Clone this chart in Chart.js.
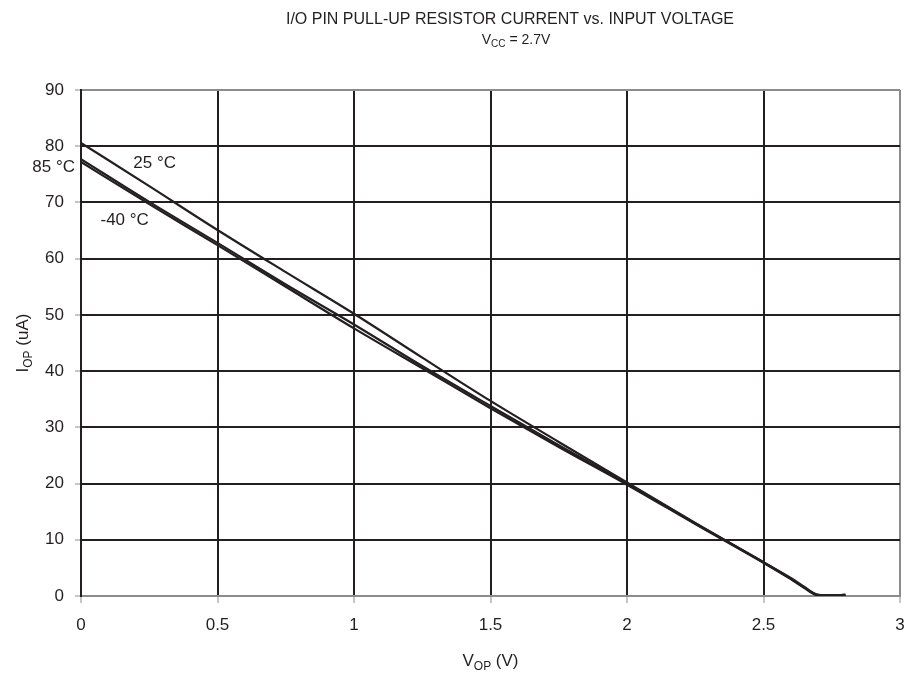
<!DOCTYPE html>
<html>
<head>
<meta charset="utf-8">
<script src="https://cdn.jsdelivr.net/npm/chart.js@4"></script>
<style>
html,body{margin:0;padding:0;background:#fff;}
#wrap{width:906px;height:674px;position:relative;}
</style>
</head>
<body>
<div id="wrap"><canvas id="c" width="906" height="674"></canvas></div>
<script>
const voltages = [0, 0.25, 0.5, 0.75, 1, 1.25, 1.5, 1.75, 2, 2.25, 2.5, 2.6, 2.65, 2.7, 2.75, 2.8];
const current25 = [80.6, 72.9, 65.1, 57.6, 50.2, 42.4, 34.7, 27.4, 20.2, 13.0, 6.0, 3.2, 1.6, 0.2, 0.1, 0.2];
const current85 = [77.7, 70.1, 62.8, 55.4, 48.3, 40.9, 33.8, 26.8, 20.0, 12.9, 6.0, 3.1, 1.5, 0.2, 0.1, 0.2];
const currentM40 = [77.2, 69.7, 62.4, 55.0, 47.6, 40.5, 33.4, 26.5, 19.8, 12.8, 5.9, 3.0, 1.4, 0.1, 0.1, 0.2];
const xTicks = [0, 0.5, 1, 1.5, 2, 2.5, 3];
const yTicks = [0, 10, 20, 30, 40, 50, 60, 70, 80, 90];
const seriesLabels = ['25 °C', '85 °C', '-40 °C'];
const labelAnchors = [[0.27, 77.0], [-0.10, 76.3], [0.16, 66.9]];

const FONT = '"Liberation Sans", Arial, sans-serif';
const DARK = '#231f20';
const GRAY = '#8c8c8c';

function pts(ys){ return voltages.map((v,i)=>({x:v,y:ys[i]})); }

const lineStyle = {borderColor: DARK, borderWidth: 2.2, pointRadius: 0, fill: false, cubicInterpolationMode: 'monotone'};

function drawSub(ctx, parts, cx, cy, bigSize, smallSize, align){
  let w = 0;
  parts.forEach(p=>{ ctx.font = (p[1]?smallSize:bigSize)+'px '+FONT; w += ctx.measureText(p[0]).width; });
  let x = align==='center' ? cx - w/2 : cx;
  ctx.textBaseline = 'alphabetic';
  ctx.textAlign = 'left';
  parts.forEach(p=>{
    ctx.font = (p[1]?smallSize:bigSize)+'px '+FONT;
    ctx.fillText(p[0], x, cy + (p[1]? bigSize*0.22 : 0));
    x += ctx.measureText(p[0]).width;
  });
}

const textPlugin = {
  id: 'texts',
  afterDraw(chart){
    const ctx = chart.ctx;
    const xs = chart.scales.x, ys = chart.scales.y;
    const ca = chart.chartArea;
    ctx.save();
    ctx.fillStyle = DARK;
    ctx.font = '16px ' + FONT;
    ctx.textAlign = 'center';
    ctx.textBaseline = 'alphabetic';
    ctx.fillText('I/O PIN PULL-UP RESISTOR CURRENT vs. INPUT VOLTAGE', 510, 24);
    drawSub(ctx, [['V',false],['CC',true],[' = 2.7V',false]], 516, 44, 14, 10, 'center');
    drawSub(ctx, [['V',false],['OP',true],[' (V)',false]], (ca.left+ca.right)/2, 666, 17, 12, 'center');
    ctx.save();
    ctx.translate(28, (ca.top+ca.bottom)/2);
    ctx.rotate(-Math.PI/2);
    drawSub(ctx, [['I',false],['OP',true],[' (uA)',false]], 0, 0, 17, 12, 'center');
    ctx.restore();
    ctx.font = '17px ' + FONT;
    ctx.textAlign = 'center';
    ctx.textBaseline = 'middle';
    seriesLabels.forEach((t,i)=>{
      ctx.fillText(t, xs.getPixelForValue(labelAnchors[i][0]), ys.getPixelForValue(labelAnchors[i][1]));
    });
    ctx.restore();
  }
};

new Chart(document.getElementById('c'), {
  type: 'line',
  data: {
    datasets: [
      Object.assign({label: seriesLabels[0], data: pts(current25)}, lineStyle),
      Object.assign({label: seriesLabels[1], data: pts(current85)}, lineStyle),
      Object.assign({label: seriesLabels[2], data: pts(currentM40)}, lineStyle)
    ]
  },
  options: {
    responsive: false,
    animation: false,
    devicePixelRatio: 1,
    layout: {padding: {top: 90, right: 6, left: 0, bottom: 0}},
    plugins: {legend: {display: false}, tooltip: {enabled: false}, title: {display: false}},
    scales: {
      x: {
        type: 'linear', min: 0, max: 3,
        afterBuildTicks(s){ s.ticks = xTicks.map(v=>({value:v})); },
        afterFit(s){ s.height = 78; s.paddingRight = 0; s.paddingLeft = 0; },
        ticks: {color: DARK, font: {family: FONT, size: 17}, padding: 12, maxRotation: 0,
                callback: v => String(v)},
        grid: {
          color: c => (c.tick && c.tick.value === 3) ? GRAY : DARK,
          lineWidth: 2,
          drawTicks: true, tickLength: 7, tickColor: GRAY, tickWidth: 1
        },
        border: {display: true, color: GRAY, width: 2}
      },
      y: {
        type: 'linear', min: 0, max: 90,
        afterBuildTicks(s){ s.ticks = yTicks.map(v=>({value:v})); },
        afterFit(s){ s.width = 81; s.paddingTop = 0; s.paddingBottom = 0; },
        ticks: {color: DARK, font: {family: FONT, size: 17}, padding: 11},
        grid: {
          color: c => (c.tick && (c.tick.value === 90 || c.tick.value === 0)) ? GRAY : DARK,
          lineWidth: 2,
          drawTicks: true, tickLength: 6, tickColor: GRAY, tickWidth: 1
        },
        border: {display: true, color: DARK, width: 2}
      }
    }
  },
  plugins: [textPlugin]
});
</script>
</body>
</html>
